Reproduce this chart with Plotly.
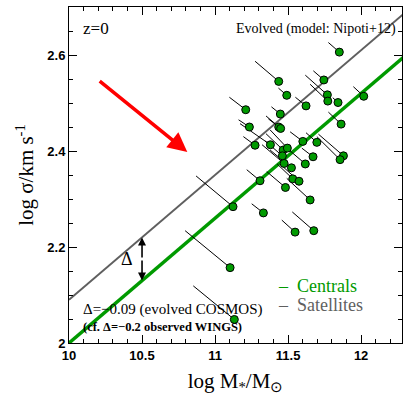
import plotly.graph_objects as go

# ---- data (log M*, log sigma) of evolved galaxies and their starting points ----
mass_end = [11.851, 11.436, 11.745, 11.491, 11.769, 11.772, 11.842, 12.018, 11.210, 11.623,
            11.447, 11.235, 11.436, 11.449, 11.863, 11.274, 11.379, 11.601, 11.697, 11.466,
            11.495, 11.461, 11.671, 11.879, 11.856, 11.473, 11.618, 11.523, 11.308, 11.532,
            11.575, 11.482, 11.651, 11.123, 11.331, 11.548, 11.676, 11.103, 11.132]
sigma_end = [2.606, 2.545, 2.548, 2.516, 2.517, 2.504, 2.501, 2.514, 2.486, 2.494,
             2.477, 2.450, 2.450, 2.447, 2.456, 2.412, 2.413, 2.420, 2.418, 2.402,
             2.406, 2.390, 2.388, 2.390, 2.382, 2.374, 2.373, 2.365, 2.338, 2.342,
             2.337, 2.324, 2.298, 2.284, 2.271, 2.231, 2.234, 2.157, 2.049]
mass_start = [11.776, 11.274, 11.673, 11.434, 11.618, 11.651, 11.806, 11.947, 11.098, 11.550,
              11.386, 11.161, 11.365, 11.349, 11.776, 11.194, 11.171, 11.514, 11.623, 11.349,
              11.377, 11.342, 11.594, 11.708, 11.697, 11.322, 11.507, 11.377, 11.217, 11.425,
              11.466, 11.354, 11.491, 10.870, 11.251, 11.457, 11.529, 10.795, 10.851]
sigma_start = [2.626, 2.587, 2.567, 2.531, 2.558, 2.539, 2.511, 2.534, 2.512, 2.512,
               2.492, 2.465, 2.467, 2.473, 2.481, 2.430, 2.457, 2.440, 2.438, 2.436,
               2.444, 2.421, 2.406, 2.435, 2.430, 2.413, 2.402, 2.402, 2.361, 2.373,
               2.367, 2.357, 2.343, 2.348, 2.290, 2.256, 2.273, 2.234, 2.119]

# relations: log sigma = zero + slope * (log M - 10)
rel_slope = 0.26
centrals_zero = 2.00
satellites_zero = 2.09
line_x = [10.0, 12.3]
delta_x = 10.5

x_ticks = [10, 10.5, 11, 11.5, 12]
x_ticklabels = ["10", "10.5", "11", "11.5", "12"]
y_ticks = [2, 2.2, 2.4, 2.6]
y_ticklabels = ["2", "2.2", "2.4", "2.6"]

GREEN = "#009a00"
GRAY = "#5f5f5f"
SERIF = "Liberation Serif"
SANS = "Liberation Sans"

fig = go.Figure()

# satellites & centrals relations
fig.add_trace(go.Scatter(x=line_x, y=[satellites_zero + rel_slope * (v - 10) for v in line_x],
                         mode="lines", line=dict(color=GRAY, width=2), showlegend=False))
fig.add_trace(go.Scatter(x=line_x, y=[centrals_zero + rel_slope * (v - 10) for v in line_x],
                         mode="lines", line=dict(color=GREEN, width=3.5), showlegend=False))

# evolution tracks
tx, ty = [], []
for xs, ys, xe, ye in zip(mass_start, sigma_start, mass_end, sigma_end):
    tx += [xs, xe, None]
    ty += [ys, ye, None]
fig.add_trace(go.Scatter(x=tx, y=ty, mode="lines", line=dict(color="black", width=1),
                         showlegend=False))

# evolved galaxies
fig.add_trace(go.Scatter(x=mass_end, y=sigma_end, mode="markers",
                         marker=dict(size=8, color=GREEN, line=dict(color="black", width=1)),
                         showlegend=False))

annotations = []
# Delta double arrow
y_sat = satellites_zero + rel_slope * (delta_x - 10)
y_cen = centrals_zero + rel_slope * (delta_x - 10)
for y0, y1 in [(y_sat, y_cen), (y_cen, y_sat)]:
    annotations.append(dict(x=delta_x, y=y1, ax=delta_x, ay=(y0 + y1) / 2, xref="x", yref="y",
                            axref="x", ayref="y", showarrow=True, arrowhead=2, arrowsize=1,
                            arrowwidth=1.6, arrowcolor="black", text=""))
annotations.append(dict(x=10.40, y=(y_sat + y_cen) / 2, xref="x", yref="y", text="Δ",
                        showarrow=False, font=dict(family=SERIF, size=18, color="black")))

# red arrow
annotations.append(dict(x=10.81, y=2.398, ax=10.20, ay=2.548, xref="x", yref="y",
                        axref="x", ayref="y", showarrow=True, arrowhead=2, arrowsize=1.1,
                        arrowwidth=3.5, arrowcolor="#ff0000", text=""))

annotations += [
    dict(x=10.085, y=2.656, xref="x", yref="y", text="z=0", showarrow=False, xanchor="left",
         font=dict(family=SERIF, size=17, color="black")),
    dict(x=12.25, y=2.654, xref="x", yref="y", text="Evolved (model: Nipoti+12)",
         showarrow=False, xanchor="right", font=dict(family=SERIF, size=14, color="black")),
    dict(x=10.08, y=2.069, xref="x", yref="y", text="Δ=−0.09 (evolved COSMOS)",
         showarrow=False, xanchor="left", font=dict(family=SERIF, size=15, color="black")),
    dict(x=10.08, y=2.034, xref="x", yref="y", text="<b>(cf. Δ=−0.2 observed WINGS)</b>",
         showarrow=False, xanchor="left", font=dict(family=SERIF, size=12.5, color="black")),
    dict(x=11.42, y=2.119, xref="x", yref="y", text="–  Centrals", showarrow=False,
         xanchor="left", font=dict(family=SERIF, size=18, color=GREEN)),
    dict(x=11.42, y=2.079, xref="x", yref="y", text="–  Satellites", showarrow=False,
         xanchor="left", font=dict(family=SERIF, size=18, color=GRAY)),
]

axis_common = dict(showline=True, linecolor="black", linewidth=1, mirror="allticks",
                   ticks="inside", ticklen=8, tickwidth=1, tickcolor="black",
                   showgrid=False, zeroline=False,
                   tickfont=dict(family=SANS, size=13, color="black", weight="bold"))

fig.update_layout(
    width=403, height=395,
    margin=dict(l=69, r=1, t=7, b=52),
    paper_bgcolor="white", plot_bgcolor="white",
    showlegend=False,
    annotations=annotations,
    xaxis=dict(range=[10, 12.28], tickvals=x_ticks, ticktext=x_ticklabels,
               minor=dict(dtick=0.1, ticks="inside", ticklen=4, tickcolor="black", showgrid=False),
               title=dict(text="log M<sub>*</sub>/M<sub>⊙</sub>", standoff=12,
                          font=dict(family=SERIF, size=21, color="black")),
               **axis_common),
    yaxis=dict(range=[2, 2.7], tickvals=y_ticks, ticktext=y_ticklabels,
               minor=dict(dtick=0.05, ticks="inside", ticklen=4, tickcolor="black", showgrid=False),
               title=dict(text="log σ/km s<sup>-1</sup>", standoff=7,
                          font=dict(family=SERIF, size=21, color="black")),
               **axis_common),
)

fig.write_html("out.html")
